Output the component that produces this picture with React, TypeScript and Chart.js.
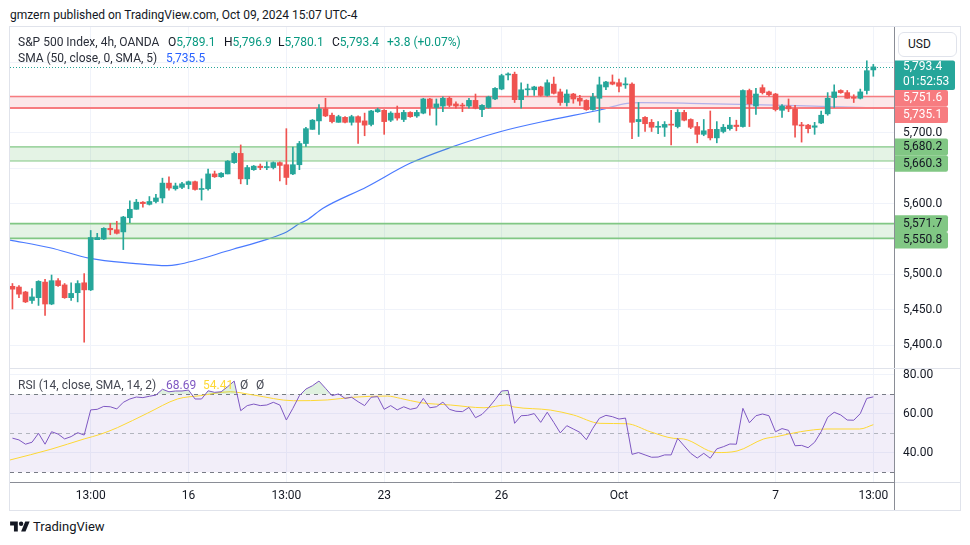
import React, { useEffect, useRef } from 'react';
import { Chart, registerables } from 'chart.js';

Chart.register(...registerables);

// ---------- DATA ----------
const opens = [5483,5482,5475,5463,5467,5489,5458,5491,5485,5467,5474,5488,5478,5549,5550,5565,5563,5560,5580,5592,5602,5599,5603,5608,5629,5621,5623,5627,5631,5620,5621,5642,5638,5642,5658,5671,5635,5648,5653,5651,5651,5658,5655,5642,5655,5685,5705,5717,5734,5725,5715,5722,5715,5723,5717,5712,5730,5732,5718,5728,5719,5729,5724,5728,5748,5736,5738,5749,5741,5739,5738,5746,5733,5736,5748,5762,5782,5783,5747,5761,5761,5765,5753,5769,5758,5743,5755,5749,5746,5733,5749,5765,5772,5771,5768,5769,5716,5722,5715,5708,5708,5712,5709,5729,5719,5709,5698,5705,5693,5702,5706,5711,5709,5760,5738,5764,5758,5755,5732,5738,5734,5711,5711,5708,5714,5727,5750,5760,5757,5750,5749,5760,5789.1];
const highs = [5487,5484,5476,5480,5491,5493,5499,5494,5487,5488,5491,5501,5562,5558,5566,5572,5575,5582,5604,5606,5603,5610,5613,5636,5638,5629,5630,5632,5632,5635,5649,5646,5644,5661,5673,5683,5654,5654,5656,5659,5659,5659,5706,5680,5688,5708,5719,5740,5749,5728,5725,5723,5725,5724,5728,5732,5735,5733,5730,5738,5732,5730,5732,5749,5749,5748,5751,5751,5744,5742,5749,5755,5740,5752,5764,5783,5785,5786,5771,5769,5766,5766,5775,5779,5762,5761,5756,5753,5747,5756,5779,5773,5782,5776,5778,5771,5743,5723,5719,5716,5716,5732,5733,5732,5720,5715,5719,5731,5716,5712,5722,5718,5761,5762,5763,5768,5759,5756,5740,5748,5739,5715,5712,5715,5731,5757,5768,5761,5760,5754,5762,5802,5796.9];
const lows = [5451,5467,5460,5459,5456,5442,5457,5483,5466,5463,5461,5404,5477,5549,5549,5556,5557,5535,5573,5592,5595,5598,5601,5601,5619,5619,5621,5621,5619,5605,5619,5637,5637,5642,5657,5628,5627,5647,5648,5648,5649,5632,5627,5641,5648,5681,5705,5698,5723,5714,5715,5714,5711,5685,5696,5710,5729,5698,5716,5718,5716,5722,5722,5727,5725,5711,5730,5737,5735,5730,5735,5734,5723,5735,5747,5761,5775,5743,5735,5753,5753,5752,5752,5755,5739,5738,5742,5739,5732,5732,5715,5761,5768,5758,5763,5692,5695,5702,5702,5699,5695,5683,5707,5717,5706,5686,5696,5690,5686,5700,5704,5703,5708,5709,5726,5755,5752,5731,5722,5730,5694,5687,5700,5698,5713,5725,5736,5756,5749,5743,5748,5755,5780.1];
const closes = [5479,5472,5461,5468,5490,5458,5491,5484,5467,5473,5487,5478,5552,5552,5565,5563,5558,5581,5592,5602,5600,5603,5608,5629,5622,5625,5628,5631,5620,5621,5642,5638,5643,5660,5671,5635,5651,5653,5651,5652,5658,5654,5637,5655,5685,5706,5718,5734,5724,5716,5723,5715,5723,5715,5711,5731,5733,5716,5728,5721,5729,5723,5729,5748,5736,5741,5749,5739,5738,5738,5746,5735,5739,5751,5763,5781,5783,5747,5761,5762,5765,5753,5771,5756,5743,5755,5748,5745,5733,5751,5768,5772,5769,5766,5769,5715,5719,5713,5708,5709,5712,5711,5729,5718,5708,5698,5703,5693,5705,5708,5711,5709,5760,5741,5755,5757,5754,5733,5738,5734,5711,5710,5706,5710,5725,5749,5758,5757,5749,5749,5758,5788,5793.4];

// SMA(50) line: bar index -> value
const smaIdx = [-0.37,5.76,11.89,18.49,23.7,25.23,33.82,39.03,42.1,44.09,45.17,47.62,54.37,60.96,67.09,74.76,82.43,90.09,94.23,96.23,103.89,111.56,120.3,125.36,132];
const smaVal = [5548.5,5537.6,5522.6,5515.6,5512.2,5513.6,5535.4,5549.5,5560.3,5572.1,5576.8,5593.4,5623.9,5657.0,5679.1,5701.7,5718.2,5732.4,5741.9,5742.7,5741.9,5740.5,5738.5,5737.1,5735.5];

const rsiVals = [47.5,46.6,44.4,45.4,50,44.4,50.8,49.6,47.1,48.3,50.3,49.1,62,62.3,63.8,63.6,62.5,65.9,67.6,68.6,68.3,69,69.6,72.6,71.3,71.7,71.7,72.2,67.6,67.6,71.8,71,71.3,73.9,76.8,61.6,64.2,65,64.2,64.5,65.9,64.5,56.8,62.8,69.3,72.7,74.4,76.8,73.1,69.3,70.2,67.9,68.5,66.2,64.2,68.5,68.8,62.3,64.2,62,63.6,62.3,63,67.9,63.1,63.6,66,62.3,61.3,61.1,63.3,58,59.7,63.1,67.2,71.7,72,55.1,59,59.2,60.1,55.6,60.8,55.6,50.2,53.9,52.2,50.5,46.7,52.6,57.7,59.2,58.5,57.3,57.8,39.2,40.1,38.9,37.7,37.8,38.9,38.9,47.4,43.5,39.7,37.3,39.7,37.2,42,43.1,44.5,44.4,62.8,55.4,59,59.9,59,50.8,52.4,51.5,43.6,43.8,42.6,45.4,50.8,58.2,60.8,59.4,56.8,56.7,60.1,67.9,68.69];

const rsiSmaIdx = [-0.37,5.9,11.0,13.5,16.1,20.7,25.3,28.8,33.4,37.0,43.1,48.3,52.3,57.5,59.5,62.6,67.2,72.3,75.8,76.9,82.5,86,90.1,94.2,97.8,101.4,102.9,108,111.1,115.2,117.2,120.8,124.9,129.9,132];
const rsiSmaVal = [36.3,41.8,47.1,49.5,52.9,60.3,67.6,69.3,71.3,69.6,66.7,67.1,68.5,69.1,67.9,65.7,64.5,63.1,64.5,63.5,61.9,59.4,55.1,54.9,50.8,47.4,47.1,40.1,40.9,47.1,48.3,50.8,52.2,52.2,54.41];

const timeTickIdx = [12, 27, 42, 57, 75, 93, 117, 132];
const timeTickLabels = ['13:00', '16', '13:00', '23', '26', 'Oct', '7', '13:00'];
const priceTicks = [5400, 5450, 5500, 5550, 5600, 5650, 5700, 5750, 5800];
const priceTicksHidden = [5550, 5650, 5750, 5800];
const rsiTicks = [40, 60, 80];
const rsiLevels = [70, 50, 30];

const resistanceZone = [5735.1, 5751.6];
const supportZones = [[5660.3, 5680.2], [5550.8, 5571.7]];
const lastClose = 5793.4;
const countdown = '01:52:53';
const badgeValues = [5793.4, 5751.6, 5735.1, 5680.2, 5660.3, 5571.7, 5550.8];
const badgeKinds = ['last', 'res', 'res', 'sup', 'sup', 'sup', 'sup'];

// ---------- STYLE ----------
const FONT = 'Roboto, "Noto Sans", sans-serif';
const UP = '#26a69a';
const DOWN = '#ef5350';
const GRID = '#f0f3fa';
const AXIS = '#8a8d96';
const TEXT = '#131722';
const X_MIN = -0.374;
const X_MAX = 135.17;

const fmtPrice = (v: number) =>
  v.toLocaleString('en-US', { minimumFractionDigits: 1, maximumFractionDigits: 1 });

function roundRect(ctx: CanvasRenderingContext2D, x: number, y: number, w: number, h: number, r: number) {
  ctx.beginPath();
  ctx.moveTo(x, y);
  ctx.lineTo(x + w - r, y);
  ctx.quadraticCurveTo(x + w, y, x + w, y + r);
  ctx.lineTo(x + w, y + h - r);
  ctx.quadraticCurveTo(x + w, y + h, x + w - r, y + h);
  ctx.lineTo(x, y + h);
  ctx.closePath();
}

const mainPlugin = {
  id: 'tvMain',
  beforeDatasetsDraw(chart: any) {
    const { ctx, chartArea, scales } = chart;
    const y = Math.round(scales.y.getPixelForValue(lastClose)) + 0.5;
    ctx.save();
    ctx.strokeStyle = UP;
    ctx.lineWidth = 1;
    ctx.setLineDash([1, 2]);
    ctx.beginPath();
    ctx.moveTo(chartArea.left, y);
    ctx.lineTo(chartArea.right, y);
    ctx.stroke();
    ctx.restore();
  },
  afterDatasetDraw(chart: any, args: any) {
    if (args.index !== 2) return;
    const { ctx, chartArea, scales } = chart;
    const ys = scales.y;
    const l = chartArea.left, r = chartArea.right;
    ctx.save();
    const rTop = ys.getPixelForValue(resistanceZone[1]);
    const rBot = ys.getPixelForValue(resistanceZone[0]);
    ctx.fillStyle = 'rgba(250,215,218,0.6)';
    ctx.fillRect(l, rTop, r - l, rBot - rTop);
    ctx.strokeStyle = '#f77c80';
    ctx.lineWidth = 1.5;
    ctx.beginPath(); ctx.moveTo(l, rTop); ctx.lineTo(r, rTop); ctx.stroke();
    ctx.lineWidth = 2;
    ctx.beginPath(); ctx.moveTo(l, rBot); ctx.lineTo(r, rBot); ctx.stroke();
    supportZones.forEach((z, k) => {
      const t = ys.getPixelForValue(z[1]);
      const b = ys.getPixelForValue(z[0]);
      ctx.fillStyle = 'rgba(76,175,80,0.15)';
      ctx.fillRect(l, t, r - l, b - t);
      ctx.strokeStyle = '#81c784';
      ctx.lineWidth = k === 0 ? 1.2 : 1.8;
      ctx.beginPath(); ctx.moveTo(l, t); ctx.lineTo(r, t); ctx.stroke();
      ctx.beginPath(); ctx.moveTo(l, b); ctx.lineTo(r, b); ctx.stroke();
    });
    ctx.restore();
  },
  afterDraw(chart: any) {
    const { ctx, chartArea, scales } = chart;
    const ys = scales.y;
    const x0 = chartArea.right + 1;
    const h = 16.6;
    let prevBottom = -Infinity;
    ctx.save();
    ctx.font = `12px ${FONT}`;
    ctx.textBaseline = 'middle';
    ctx.textAlign = 'left';
    badgeValues.forEach((v, i) => {
      const kind = badgeKinds[i];
      const c = ys.getPixelForValue(v);
      const isLast = kind === 'last';
      let top = isLast ? c - 6.5 : c - h / 2;
      if (top < prevBottom) top = prevBottom;
      const height = isLast ? 29.5 : h;
      const w = isLast ? 60 : 53;
      const bg = isLast ? UP : kind === 'res' ? '#f77c80' : '#81c784';
      const fg = kind === 'sup' ? TEXT : '#ffffff';
      ctx.fillStyle = bg;
      roundRect(ctx, x0, top, w, height, 2);
      ctx.fill();
      ctx.fillStyle = fg;
      const tc = isLast ? top + 6.8 : top + h / 2;
      ctx.fillText(fmtPrice(v), x0 + 8, tc);
      if (isLast) ctx.fillText(countdown, x0 + 8, tc + 14.6);
      prevBottom = top + height;
    });
    ctx.restore();
  },
};

const rsiPlugin = {
  id: 'tvRsi',
  beforeDatasetsDraw(chart: any) {
    const { ctx, chartArea, scales } = chart;
    const ys = scales.y;
    const l = chartArea.left, r = chartArea.right;
    const t = ys.getPixelForValue(rsiLevels[0]);
    const b = ys.getPixelForValue(rsiLevels[2]);
    ctx.save();
    ctx.fillStyle = 'rgba(126,87,194,0.1)';
    ctx.fillRect(l, t, r - l, b - t);
    ctx.lineWidth = 1;
    ctx.setLineDash([4, 4]);
    rsiLevels.forEach((lv, k) => {
      const y = Math.round(ys.getPixelForValue(lv)) + 0.5;
      ctx.strokeStyle = k === 1 ? '#b2b5be' : '#787b86';
      ctx.beginPath(); ctx.moveTo(l, y); ctx.lineTo(r, y); ctx.stroke();
    });
    ctx.restore();
  },
  afterDraw(chart: any) {
    const { ctx, chartArea, width, height } = chart;
    ctx.save();
    ctx.strokeStyle = '#e0e3eb';
    ctx.lineWidth = 1;
    ctx.beginPath(); ctx.moveTo(0, 0.5); ctx.lineTo(width, 0.5); ctx.stroke();
    ctx.beginPath(); ctx.moveTo(chartArea.right, chartArea.bottom + 0.5); ctx.lineTo(width, chartArea.bottom + 0.5); ctx.stroke();
    ctx.strokeStyle = AXIS;
    const x = Math.round(chartArea.right) + 0.5;
    ctx.beginPath(); ctx.moveTo(x, chartArea.bottom); ctx.lineTo(x, height); ctx.stroke();
    ctx.restore();
  },
};

function xScale(showLabels: boolean): any {
  return {
    type: 'linear',
    min: X_MIN,
    max: X_MAX,
    offset: false,
    grid: { color: GRID, offset: false, drawTicks: false },
    border: { display: showLabels, color: AXIS },
    ticks: {
      display: showLabels,
      autoSkip: false,
      maxRotation: 0,
      padding: 7,
      color: TEXT,
      font: { size: 12, family: FONT },
      callback: (v: number) => {
        const k = timeTickIdx.indexOf(v);
        return k >= 0 ? timeTickLabels[k] : '';
      },
    },
    afterBuildTicks: (s: any) => { s.ticks = timeTickIdx.map((v) => ({ value: v })); },
    afterFit: (s: any) => {
      s.height = showLabels ? 28 : 0;
      s.paddingLeft = 0; s.paddingRight = 0;
    },
  };
}

export default function App() {
  const mainRef = useRef<HTMLCanvasElement>(null);
  const rsiRef = useRef<HTMLCanvasElement>(null);

  useEffect(() => {
    Chart.defaults.font.family = FONT;
    const idx = closes.map((_, i) => i);
    const colors = idx.map((i) => (closes[i] >= opens[i] ? UP : DOWN));

    const main = new Chart(mainRef.current!, {
      type: 'bar',
      data: {
        datasets: [
          {
            type: 'bar',
            data: idx.map((i) => ({ x: i, y: [opens[i], closes[i]] })) as any,
            backgroundColor: colors,
            barThickness: 5,
            grouped: false,
            minBarLength: 1,
            borderWidth: 0,
            order: 1,
          } as any,
          {
            type: 'bar',
            data: idx.map((i) => ({ x: i, y: [lows[i], highs[i]] })) as any,
            backgroundColor: colors,
            barThickness: 1,
            grouped: false,
            borderWidth: 0,
            order: 2,
          } as any,
          {
            type: 'line',
            data: smaIdx.map((x, k) => ({ x, y: smaVal[k] })),
            borderColor: 'rgba(41,98,255,0.85)',
            borderWidth: 1.2,
            pointRadius: 0,
            cubicInterpolationMode: 'monotone',
            order: 3,
          } as any,
        ],
      },
      options: {
        responsive: false,
        animation: false,
        devicePixelRatio: 1,
        events: [],
        layout: { padding: 0 },
        plugins: { legend: { display: false }, tooltip: { enabled: false } },
        scales: {
          x: xScale(false),
          y: {
            type: 'linear',
            position: 'right',
            min: 5367.5,
            max: 5849.8,
            grid: { color: GRID, drawTicks: false },
            border: { color: AXIS },
            ticks: {
              padding: 9,
              color: TEXT,
              font: { size: 12, family: FONT },
              callback: (v: number) => (priceTicksHidden.includes(v) ? '' : fmtPrice(v)),
            },
            afterBuildTicks: (s: any) => { s.ticks = priceTicks.map((v) => ({ value: v })); },
            afterFit: (s: any) => { s.width = 66; s.paddingTop = 0; s.paddingBottom = 0; },
          } as any,
        },
      } as any,
      plugins: [mainPlugin],
    });

    const rsi = new Chart(rsiRef.current!, {
      type: 'line',
      data: {
        datasets: [
          {
            data: idx.map((i) => ({ x: i, y: rsiVals[i] })),
            borderColor: '#7e57c2',
            borderWidth: 1,
            pointRadius: 0,
            tension: 0,
            fill: { target: { value: 70 }, above: 'rgba(76,175,80,0.18)', below: 'rgba(0,0,0,0)' },
          } as any,
          {
            data: rsiSmaIdx.map((x, k) => ({ x, y: rsiSmaVal[k] })),
            borderColor: '#fdd835',
            borderWidth: 1,
            pointRadius: 0,
            cubicInterpolationMode: 'monotone',
            fill: false,
          } as any,
        ],
      },
      options: {
        responsive: false,
        animation: false,
        devicePixelRatio: 1,
        events: [],
        layout: { padding: 0 },
        plugins: { legend: { display: false }, tooltip: { enabled: false } },
        scales: {
          x: xScale(true),
          y: {
            type: 'linear',
            position: 'right',
            min: 25,
            max: 83.5,
            grid: { color: GRID, drawTicks: false },
            border: { color: AXIS },
            ticks: {
              padding: 9,
              color: TEXT,
              font: { size: 12, family: FONT },
              callback: (v: number) => v.toFixed(2),
            },
            afterBuildTicks: (s: any) => { s.ticks = rsiTicks.map((v) => ({ value: v })); },
            afterFit: (s: any) => { s.width = 66; s.paddingTop = 0; s.paddingBottom = 0; },
          } as any,
        },
      } as any,
      plugins: [rsiPlugin],
    });

    return () => {
      main.destroy();
      rsi.destroy();
    };
  }, []);

  const abs = (left: number, top: number, extra: React.CSSProperties = {}): React.CSSProperties => ({
    position: 'absolute', left, top, whiteSpace: 'nowrap', fontSize: 12, lineHeight: '16px', ...extra,
  });
  const teal = '#089981';

  return (
    <div style={{ position: 'fixed', left: 0, top: 0, width: 970, height: 545, background: '#fff', fontFamily: FONT, color: TEXT, overflow: 'hidden' }}>
      <div style={abs(10, 7)}>
        gmzern published on TradingView.com, Oct 09, 2024 15:07 UTC-4
      </div>
      <div style={{ position: 'absolute', left: 9, top: 26, width: 952, height: 485, border: '1px solid #e0e3eb', boxSizing: 'border-box' }} />
      <canvas ref={mainRef} width={950} height={341} style={{ position: 'absolute', left: 10, top: 27, width: 950, height: 341 }} />
      <canvas ref={rsiRef} width={950} height={142} style={{ position: 'absolute', left: 10, top: 368, width: 950, height: 142 }} />

      {/* main legend */}
      <div style={abs(18, 34, { color: '#2a2e39' })}>S&amp;P 500 Index, 4h, OANDA</div>
      <div style={abs(168, 34)}>O<span style={{ color: teal }}>5,789.1</span></div>
      <div style={abs(224, 34)}>H<span style={{ color: teal }}>5,796.9</span></div>
      <div style={abs(278, 34)}>L<span style={{ color: teal }}>5,780.1</span></div>
      <div style={abs(332, 34)}>C<span style={{ color: teal }}>5,793.4</span></div>
      <div style={abs(387, 34, { color: teal })}>+3.8 (+0.07%)</div>
      <div style={abs(18, 50, { color: '#2a2e39' })}>SMA (50, close, 0, SMA, 5)</div>
      <div style={abs(166, 50, { color: '#2962ff' })}>5,735.5</div>

      {/* USD button */}
      <div style={{ position: 'absolute', left: 898, top: 32, width: 59, height: 25, border: '1px solid #e0e3eb', borderRadius: 6, boxSizing: 'border-box', fontSize: 12, lineHeight: '23px', paddingLeft: 9, background: '#fff' }}>USD</div>

      {/* RSI legend */}
      <div style={abs(18, 377, { color: '#434651' })}>RSI (14, close, SMA, 14, 2)</div>
      <div style={abs(166, 377, { color: '#7e57c2' })}>68.69</div>
      <div style={abs(203, 377, { color: '#fdd835' })}>54.41</div>
      <div style={abs(240, 377, { color: '#434651' })}>Ø</div>
      <div style={abs(256, 377, { color: '#434651' })}>Ø</div>

      {/* logo */}
      <svg style={{ position: 'absolute', left: 10, top: 521 }} width={20} height={11} viewBox="0 3 36 20">
        <path d="M14 22H7V11H0V4h14z" fill="#131722" />
        <circle cx="20" cy="8" r="4" fill="#131722" />
        <path d="M28 22h-8l7.5-18h8z" fill="#131722" />
      </svg>
      <div style={abs(33, 519, { fontSize: 13 })}>TradingView</div>
    </div>
  );
}
